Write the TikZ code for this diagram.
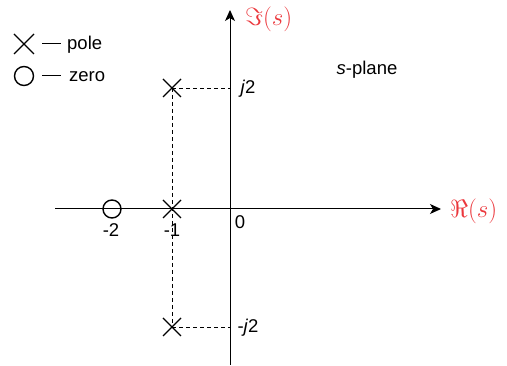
\documentclass[tikz,border=0pt]{standalone}
\usepackage{fontspec}
\setmainfont{Liberation Sans}
\usetikzlibrary{arrows.meta}
\definecolor{lblred}{RGB}{235,55,60}
\begin{document}
\begin{tikzpicture}[x=1pt,y=-1pt,
  axis/.style={line width=1pt,-{Stealth[length=11pt,width=10pt,inset=3pt]}},
  guide/.style={line width=0.7pt,dash pattern=on 4pt off 3pt},
  txt/.style={inner sep=0pt,font=\fontsize{18.5}{21}\selectfont},
  mlabel/.style={inner sep=0pt,text=lblred,font=\fontsize{23}{26}\selectfont},
  pzmark/.style={line width=1.4pt}]
\useasboundingbox (0,0) rectangle (507,366);
% axes
\coordinate (xl) at (55,209);
\coordinate (xr) at (441,209);
\coordinate (yb) at (230,365);
\coordinate (yt) at (230,10);
\draw[axis] (xl) -- (xr);
\draw[axis] (yb) -- (yt);
\node[mlabel,anchor=west] (re) at (450,211) {$\Re(s)$};
\node[mlabel,anchor=west] (im) at (245,19) {$\Im(s)$};
% poles and zero positions
\coordinate (p1) at (172,88);
\coordinate (p0) at (172,209);
\coordinate (p2) at (172,327);
\coordinate (z) at (112,209);
\coordinate (a1) at (230,88);
\coordinate (a2) at (230,327);
% dashed guides
\draw[guide] (p1) -- (p2);
\draw[guide] (p1) -- (a1);
\draw[guide] (p2) -- (a2);
% marks
\foreach \p in {p1,p0,p2}{
  \draw[pzmark] ([shift={(-9,-9)}]\p) -- ([shift={(9,9)}]\p)
              ([shift={(-9,9)}]\p) -- ([shift={(9,-9)}]\p);
}
\draw[pzmark] (z) circle (9);
% labels
\node[txt] (lj2) at (248,89) {\textit{j}2};
\node[txt] (lmj2) at (248,328) {-\textit{j}2};
\node[txt] (l0) at (240,222) {0};
\node[txt] (lm2) at (111,230) {-2};
\node[txt] (lm1) at (172,230) {-1};
\node[txt] (splane) at (367,70) {\textit{s}-plane};
% legend
\coordinate (lc) at (24,44);
\coordinate (lz) at (24,76);
\draw[pzmark] ([shift={(-10,-10)}]lc) -- ([shift={(10,10)}]lc)
            ([shift={(-10,10)}]lc) -- ([shift={(10,-10)}]lc);
\draw[pzmark] (lz) circle (9.5);
\node[txt,anchor=west] (lpole) at (42,45) {\rule[5.5pt]{19pt}{1pt}\hspace{6pt}pole};
\node[txt,anchor=west] (lzero) at (42,77) {\rule[5.5pt]{19pt}{1pt}\hspace{8pt}zero};
\end{tikzpicture}
\end{document}
